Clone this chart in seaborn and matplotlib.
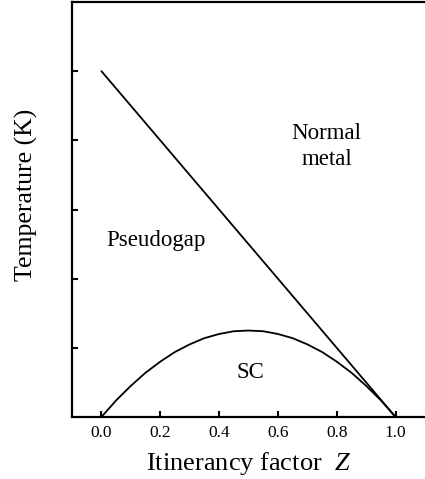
import numpy as np
import pandas as pd
import matplotlib
matplotlib.use("Agg")
import matplotlib.pyplot as plt
import seaborn as sns

# Pseudogap boundary (straight line)
pg_z = [0.0, 1.0]
pg_t = [5.0, 0.0]

# SC dome
sc_z = [0.0, 0.05, 0.1, 0.15, 0.2, 0.25, 0.3, 0.35, 0.4, 0.45, 0.5,
        0.55, 0.6, 0.65, 0.7, 0.75, 0.8, 0.85, 0.9, 0.95, 1.0]
sc_t = [0.0, 0.24, 0.45, 0.64, 0.80, 0.94, 1.05, 1.14, 1.20, 1.24, 1.25,
        1.24, 1.20, 1.14, 1.05, 0.94, 0.80, 0.64, 0.45, 0.24, 0.0]

xticks = [0.0, 0.2, 0.4, 0.6, 0.8, 1.0]
xtick_labels = ["0.0", "0.2", "0.4", "0.6", "0.8", "1.0"]
yticks = [1, 2, 3, 4, 5]

sns.set_style("ticks")
plt.rcParams["font.family"] = ["Liberation Serif", "DejaVu Serif"]
plt.rcParams["mathtext.fontset"] = "custom"
plt.rcParams["mathtext.it"] = "Liberation Serif:italic"
plt.rcParams["text.color"] = "black"
plt.rcParams["axes.labelcolor"] = "black"

fig = plt.figure(figsize=(4.25, 4.79), dpi=100)
ax = fig.add_axes([72 / 425, 62 / 479, 353 / 425, 415 / 479])

df_pg = pd.DataFrame({"Z": pg_z, "T": pg_t})
df_sc = pd.DataFrame({"Z": sc_z, "T": sc_t})
sns.lineplot(data=df_pg, x="Z", y="T", ax=ax, color="black", lw=1.3)
sns.lineplot(data=df_sc, x="Z", y="T", ax=ax, color="black", lw=1.3)

ax.set_xlim(-0.1, 1.1)
ax.set_ylim(0, 6.0)
ax.set_xticks(xticks)
ax.set_xticklabels(xtick_labels, fontsize=12.5)
ax.set_yticks(yticks)
ax.set_yticklabels([])
ax.tick_params(direction="in", length=4, width=1.5, colors="black", pad=6)

for s in ["left", "bottom", "top"]:
    ax.spines[s].set_linewidth(1.6)
    ax.spines[s].set_color("black")
ax.spines["right"].set_visible(False)

ax.set_xlabel("Itinerancy factor  $Z$", fontsize=19, labelpad=6)
ax.set_ylabel("Temperature (K)", fontsize=18.5)
ax.yaxis.set_label_coords(-0.097, 0.535)

ax.text(0.187, 2.55, "Pseudogap", fontsize=16.5, ha="center", va="center")
ax.text(0.765, 3.91, "Normal\nmetal", fontsize=16.5, ha="center", va="center",
        linespacing=1.3)
ax.text(0.507, 0.64, "SC", fontsize=16.5, ha="center", va="center")

fig.savefig("out.png", dpi=100)
